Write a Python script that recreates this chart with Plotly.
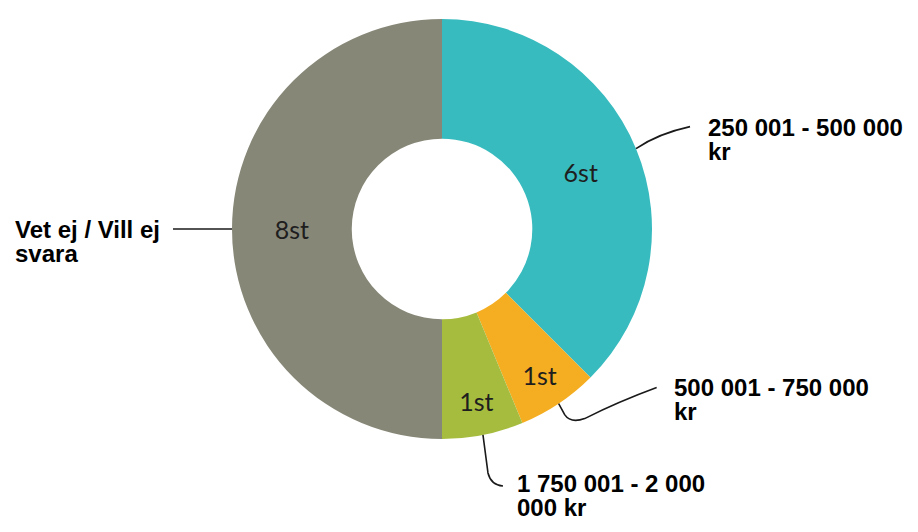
import numpy as np
import plotly.graph_objects as go

# data
categories = ["250 001 - 500 000 kr", "500 001 - 750 000 kr",
              "1 750 001 - 2 000 000 kr", "Vet ej / Vill ej svara"]
label_lines = [["250 001 - 500 000", "kr"],
               ["500 001 - 750 000", "kr"],
               ["1 750 001 - 2 000", "000 kr"],
               ["Vet ej / Vill ej", "svara"]]
counts = [6, 1, 1, 8]
slice_text = [f"{c}st" for c in counts]
colors = ["#38BBBF", "#F5AE22", "#A6BC3F", "#878778"]

# page body has an 8px margin, so the figure is a bit smaller and shifted
OFF = 8
FW, FH = 918 - OFF, 532 - OFF
CX, CY, R = 442, 229, 210   # pie centre / radius in page pixels


def px(x):
    return (x - OFF) / FW


def py(y):
    return 1 - (y - OFF) / FH


fig = go.Figure(go.Pie(
    labels=categories,
    values=counts,
    text=slice_text,
    textinfo="text",
    textposition="inside",
    insidetextorientation="horizontal",
    textfont=dict(family="Lato", size=25, color="#1e1e1e"),
    marker=dict(colors=colors, line=dict(width=0)),
    hole=0.43,
    sort=False,
    direction="clockwise",
    rotation=0,
    showlegend=False,
    domain=dict(x=[px(CX - R), px(CX + R)], y=[py(CY + R), py(CY - R)]),
))

# leader lines start at the middle of each slice's outer edge
vals = np.array(counts, dtype=float)
mids = (np.cumsum(vals) - vals / 2) / vals.sum() * 2 * np.pi
edges = [(CX + R * np.sin(a), CY - R * np.cos(a)) for a in mids]

# leader path pieces relative to the edge point (pixels), and text offset from line end
leaders = [
    [("Q", (22, -15), (54, -22))],
    [("L", (6, 11)), ("Q", (12, 20), (26, 15)), ("Q", (60, -2), (98, -16))],
    [("L", (5, 38)), ("Q", (8, 50), (20, 51))],
    [("L", (-59, 0))],
]
text_offsets = [(16, 1), (15, 0), (12, -2), None]


def fmt(p):
    return f"{px(p[0]):.5f},{py(p[1]):.5f}"


shapes, annotations = [], []
for i, (ex, ey) in enumerate(edges):
    d = "M " + fmt((ex, ey))
    end = (ex, ey)
    for seg in leaders[i]:
        if seg[0] == "L":
            end = (ex + seg[1][0], ey + seg[1][1])
            d += " L " + fmt(end)
        else:
            c = (ex + seg[1][0], ey + seg[1][1])
            end = (ex + seg[2][0], ey + seg[2][1])
            d += " Q " + fmt(c) + " " + fmt(end)
    shapes.append(dict(type="path", path=d, xref="paper", yref="paper",
                       line=dict(color="#1a1a1a", width=1.6)))

    if text_offsets[i] is not None:
        tx, ty = end[0] + text_offsets[i][0], end[1] + text_offsets[i][1]
    else:
        tx, ty = 13, end[1]
    for j, line in enumerate(label_lines[i]):
        annotations.append(dict(
            x=px(tx), y=py(ty + 24 * j), xref="paper", yref="paper",
            xanchor="left", yanchor="middle", showarrow=False,
            text=f"<b>{line}</b>",
            font=dict(family="Liberation Sans", size=24, color="#000000"),
        ))

fig.update_layout(
    width=FW, height=FH,
    margin=dict(l=0, r=0, t=0, b=0),
    paper_bgcolor="white",
    plot_bgcolor="white",
    shapes=shapes,
    annotations=annotations,
)

fig.write_html("out.html")
